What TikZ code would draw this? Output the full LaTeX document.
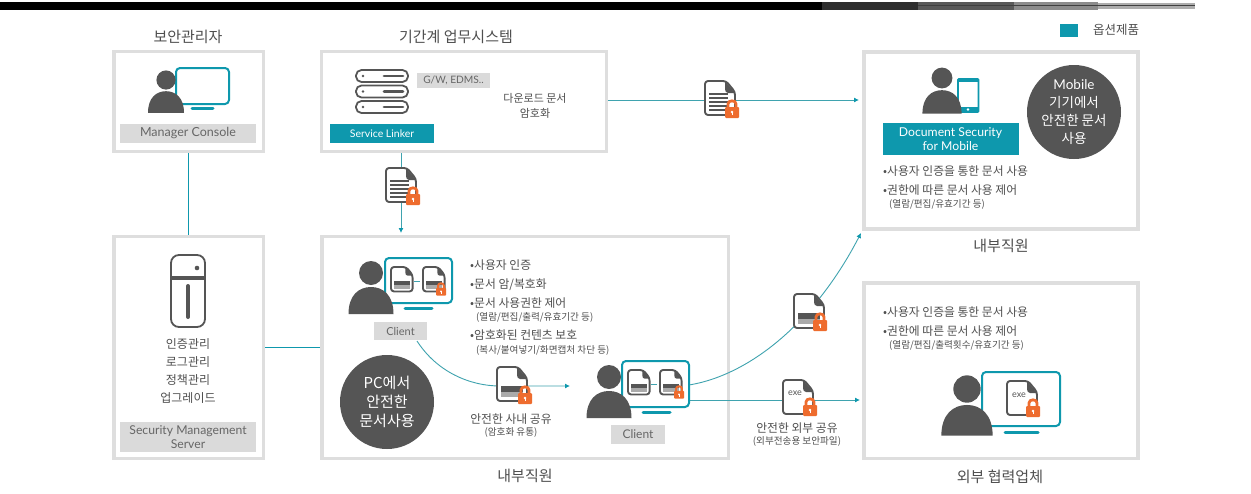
\documentclass[tikz,border=0pt]{standalone}
\usepackage{fontspec}
\setmainfont{Noto Sans CJK KR}
\newfontfamily\latinf{Lato}
\usetikzlibrary{arrows.meta}
\definecolor{teal1}{HTML}{0E98AD}
\definecolor{lineteal}{HTML}{3FA3AF}
\definecolor{frameg}{HTML}{DEDEDE}
\definecolor{labelg}{HTML}{DADADA}
\definecolor{dark}{HTML}{555555}
\definecolor{txt}{HTML}{4F4F4F}
\definecolor{lockor}{HTML}{EE6C2E}
\tikzset{
  frame/.style={draw=frameg,line width=3.5pt,fill=white,inner sep=0pt},
  graylabel/.style={fill=labelg,text=dark!90,inner sep=0pt,align=center,font=\latinf\fontsize{#1}{14}\selectfont},
  teallabel/.style={fill=teal1,text=white,inner sep=0pt,align=center,font=\latinf\fontsize{#1}{14}\selectfont},
  title/.style={text=txt,inner sep=0pt,font=\fontsize{15}{15}\selectfont},
  body/.style={text=txt,inner sep=0pt,align=center,font=\fontsize{#1}{#1}\selectfont},
  bull/.style={text=txt,inner sep=0pt,anchor=west,font=\fontsize{11.8}{12}\selectfont},
  subb/.style={text=txt,inner sep=0pt,anchor=west,font=\fontsize{9.6}{10}\selectfont},
  badge/.style={circle,fill=dark,text=white,inner sep=0pt,minimum size=#1,align=center},
  conn/.style={draw=lineteal,line width=0.9pt},
  arrowconn/.style={conn,-{Latex[length=5pt,width=5pt,color=teal1]}},
  screen/.style={draw=teal1,line width=2pt,rounded corners=4pt,fill=white},
  stand/.style={draw=teal1,line width=3pt,line cap=round},
}
% person: head centre x,y, scale
\newcommand\persona[3]{\begin{scope}[shift={(#1,#2)},scale=#3]
  \fill[dark] (0,0) circle (12);
  \fill[dark] (-22.5,41) .. controls (-22.5,22) and (-12,14) .. (0,14) .. controls (12,14) and (22.5,22) .. (22.5,41) -- cycle;
\end{scope}}
% lock: top-left x,y, scale
\newcommand\lockpad[3]{\begin{scope}[shift={(#1,#2)},scale=#3]
  \draw[lockor,line width=#3*2.8pt] (3,9) -- (3,5) .. controls (3,0.8) and (11,0.8) .. (11,5) -- (11,9);
  \fill[lockor,rounded corners=1pt] (0,8) rectangle (14,19);
  \fill[white] (7,13) circle (1.3);
  \draw[white,line width=#3*0.8pt] (7,13) -- (7,16);
\end{scope}}
% document outline: top-left x,y, scale
\newcommand\docshape[3]{\begin{scope}[shift={(#1,#2)},scale=#3]
  \draw[dark,line width=1.9pt,fill=white,rounded corners=3pt,line join=round] (0,0) -- (21,0) -- (30,11) -- (30,34) -- (0,34) -- cycle;
  \fill[dark] (20,0) -- (30,12) -- (23,12) .. controls (21,12) and (20,10) .. (20,8) -- cycle;
\end{scope}}
% document with text lines
\newcommand\doclines[2]{\docshape{#1}{#2}{1}
  \begin{scope}[shift={(#1,#2)}]
  \foreach \yy in {13,17,21,25,29} {\draw[dark,line width=1.9pt] (4,\yy) -- (23,\yy);}
  \end{scope}
  \lockpad{#1+20}{#2+18}{1}}
% document with a grey band
\newcommand\docband[3]{\docshape{#1}{#2}{#3}
  \begin{scope}[shift={(#1,#2)},scale=#3]
  \fill[dark] (4,19) rectangle (26,25);
  \fill[dark!50] (4,25) rectangle (26,30);
  \end{scope}}
\begin{document}
\begin{tikzpicture}[x=1pt,y=-1pt]
\useasboundingbox (0,0) rectangle (1251,493);
\fill[white] (0,0) rectangle (1251,493);
% top band
\fill[black] (0,1.5) rectangle (822,9.5);
\fill[black!82] (822,2) rectangle (918,9.5);
\fill[black!65] (918,2) rectangle (1014,9.5);
\fill[black!45] (1014,2) rectangle (1098,9.5);
\fill[black!32] (1098,2.5) rectangle (1195,9);
\draw[black!75,line width=1pt] (918,5.5) -- (1195,5.5);
% legend
\fill[teal1] (1060,24) rectangle (1078,37);
\node[text=txt,inner sep=0pt,font=\fontsize{12.5}{13}\selectfont] (legend) at (1116,30) {옵션제품};
% frames
\node[frame,minimum width=149.5pt,minimum height=100pt] (mgr) at (188.5,101.5) {};
\node[frame,minimum width=285pt,minimum height=100pt] (sys) at (464,101.5) {};
\node[frame,minimum width=149.5pt,minimum height=222pt] (sec) at (188.5,347.5) {};
\node[frame,minimum width=406.5pt,minimum height=222pt] (cli) at (525,347.5) {};
\node[frame,minimum width=274pt,minimum height=177pt] (mob) at (1001,140.5) {};
\node[frame,minimum width=274pt,minimum height=175.5pt] (ext) at (1001,370.5) {};
% titles
\node[title] (t1) at (188,37) {보안관리자};
\node[title] (t2) at (456,37) {기간계 업무시스템};
\node[title] (t3) at (525,476) {내부직원};
\node[title] (t4) at (1001,246) {내부직원};
\node[title] (t5) at (1000,477) {외부 협력업체};
% free ends of connectors
\coordinate (svcout) at (401,153);
\coordinate (cliin) at (401,233);
\coordinate (sysout) at (608,100);
\coordinate (mobin) at (859,100);
\coordinate (c1out) at (417,341);
\coordinate (c2in) at (570,386);
\coordinate (c2outa) at (689,385);
\coordinate (mobinb) at (861,233);
\coordinate (c2outb) at (690,400);
\coordinate (extin) at (860,400);
% connectors
\draw[conn,draw=teal1] (mgr.south) -- (sec.north);
\draw[conn,draw=teal1] (sec.east) -- (cli.west);
\draw[arrowconn] (svcout) -- (cliin);
\draw[arrowconn] (sysout) -- (mobin);
\draw[arrowconn] (c1out) .. controls (437,372) and (470,386) .. (500,386) -- (c2in);
\draw[arrowconn] (c2outa) .. controls (750,375) and (815,322) .. (mobinb);
\draw[arrowconn] (c2outb) -- (extin);
% manager console
\draw[screen] (176,68) rectangle (229,104);
\draw[stand] (192,108) -- (213,108);
\persona{166}{80}{0.8}
\node[graylabel=12.5,minimum width=136pt,minimum height=19pt] (mc) at (188,133.5) {Manager Console};
% server rack
\foreach \yy in {70,85.5,101}{
  \draw[dark,line width=1.8pt,rounded corners=5.5pt] (356,\yy) rectangle (408,\yy+12);
  \fill[dark] (363,\yy+6) circle (1.3);
  \draw[dark,line width=2.8pt,line cap=round] (384,\yy+6) -- (403,\yy+6);
}
\node[graylabel=10.2,minimum width=73pt,minimum height=15pt] (gw) at (453.5,80.5) {G/W, EDMS..};
\node[teallabel=10.5,minimum width=104pt,minimum height=19pt] (sl) at (382,133.5) {Service Linker};
\node[body=11,align=center] (dl) at (535,105.5) {다운로드 문서\\[4pt]암호화};
% doc icons on lines
\doclines{705}{81}
\doclines{386}{168}
% security server
\draw[dark,line width=1.8pt,rounded corners=8pt] (171,255) rectangle (205,327);
\fill[dark] (171,276) rectangle (205,280);
\fill[dark] (197,268) circle (2.3);
\draw[dark,line width=4pt,line cap=round] (188,286) -- (188,317);
\node[body=12] (s1) at (188,344) {인증관리};
\node[body=12] (s2) at (188,362) {로그관리};
\node[body=12] (s3) at (188,380) {정책관리};
\node[body=12] (s4) at (188,398) {업그레이드};
\node[graylabel=12.2,minimum width=136pt,minimum height=30pt] (sms) at (188,437) {Security Management\\Server};
% client 1
\draw[screen] (385,258) rectangle (452,303);
\draw[stand] (405,308.5) -- (432,308.5);
\persona{371}{273}{1}
\docband{391}{267}{0.72}
\docband{423}{267}{0.72}
\draw[lineteal,line width=.6pt] (414,281) -- (420,281);
\lockpad{436}{282}{0.72}
\node[graylabel=11,minimum width=53pt,minimum height=18pt] (cl1) at (400.5,331) {Client};
% features
\node[bull] (f1) at (470,265) {•사용자 인증};
\node[bull] (f2) at (470,285) {•문서 암/복호화};
\node[bull] (f3) at (470,303) {•문서 사용권한 제어};
\node[subb] (f3s) at (476,317) {(열람/편집/출력/유효기간 등)};
\node[bull] (f4) at (470,335) {•암호화된 컨텐츠 보호};
\node[subb] (f4s) at (476,350) {(복사/붙여넣기/화면캡처 차단 등)};
% PC badge
\node[badge=94pt,font=\fontsize{15}{19}\selectfont] (pc) at (387,402) {PC에서\\안전한\\문서사용};
% shared doc
\docband{497}{367}{1}
\lockpad{518}{385}{1}
\node[body=11.8] (in1) at (511,419) {안전한 사내 공유};
\node[body=9.6] (in2) at (511,432) {(암호화 유통)};
% client 2
\draw[screen] (622,361) rectangle (689,407);
\draw[stand] (643,412) -- (670,412);
\persona{609}{377}{1}
\docband{628}{370}{0.72}
\docband{660}{370}{0.72}
\draw[lineteal,line width=.6pt] (651,384) -- (657,384);
\lockpad{674}{385}{0.72}
\node[graylabel=12,minimum width=54pt,minimum height=19pt] (cl2) at (638,434.5) {Client};
% doc on curve
\docband{794}{294}{1}
\lockpad{813}{312}{1}
% exe doc on line
\docshape{783}{380}{1}
\node[text=dark,inner sep=0pt,font=\latinf\fontsize{9}{9}\selectfont] (exe1) at (795,393) {exe};
\lockpad{803}{397}{1}
\node[body=11.8] (ou1) at (797,428) {안전한 외부 공유};
\node[body=9.6] (ou2) at (797,441) {(외부전송용 보안파일)};
% mobile box
\draw[teal1,line width=1.8pt,rounded corners=1pt,fill=white] (958,79) rectangle (978.5,112);
\fill[teal1] (958,79) rectangle (978.5,82);
\fill[teal1] (958,107) rectangle (978.5,112);
\fill[white] (968,109.5) circle (1.3);
\persona{942}{78}{0.87}
\node[teallabel=12.2,minimum width=136pt,minimum height=32pt] (dsm) at (950.5,139) {Document Security\\for Mobile};
\node[badge=94pt,font=\fontsize{13.5}{18}\selectfont] (mb) at (1074,112) {\latinf Mobile\\기기에서\\안전한 문서\\사용};
\node[bull] (m1) at (883,171) {•사용자 인증을 통한 문서 사용};
\node[bull] (m2) at (883,190) {•권한에 따른 문서 사용 제어};
\node[subb] (m2s) at (889,204) {(열람/편집/유효기간 등)};
% external box
\node[bull] (e1) at (883,312) {•사용자 인증을 통한 문서 사용};
\node[bull] (e2) at (883,331) {•권한에 따른 문서 사용 제어};
\node[subb] (e2s) at (889,345) {(열람/편집/출력횟수/유효기간 등)};
\draw[screen] (982,372) rectangle (1060,426);
\draw[stand] (1005,432) -- (1038,432);
\persona{967}{389}{1.14}
\docshape{1007}{381}{1}
\node[text=dark,inner sep=0pt,font=\latinf\fontsize{9}{9}\selectfont] (exe2) at (1019,395) {exe};
\lockpad{1026}{398}{1}
\end{tikzpicture}
\end{document}
